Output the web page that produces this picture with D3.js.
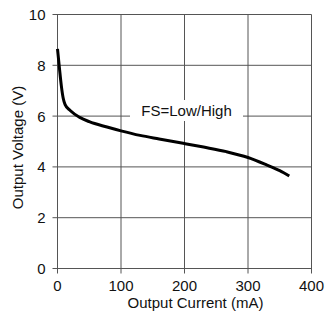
<!DOCTYPE html>
<html><head><meta charset="utf-8">
<script src="https://cdn.jsdelivr.net/npm/d3@7"></script>
<style>body{margin:0;background:#fff}svg{display:block}text{font-family:"Liberation Sans",Arial,sans-serif;fill:#111}</style>
</head><body>
<script>
const current = [0, 3, 6, 9, 12, 20, 35, 50, 78, 100, 130, 160, 200, 230, 266, 300, 330, 350, 365];
const voltage = [8.65, 7.9, 7.2, 6.7, 6.45, 6.22, 5.95, 5.78, 5.57, 5.42, 5.24, 5.1, 4.92, 4.78, 4.6, 4.37, 4.07, 3.85, 3.64];
const xTicks = [0, 100, 200, 300, 400];
const yTicks = [0, 2, 4, 6, 8, 10];
const annotation = "FS=Low/High";
const xTitle = "Output Current (mA)";
const yTitle = "Output Voltage (V)";

const W = 328, H = 311;
const svg = d3.select("body").append("svg").attr("width", W).attr("height", H);
const x = d3.scaleLinear().domain([0, 400]).range([57.5, 311.5]);
const y = d3.scaleLinear().domain([0, 10]).range([268.5, 14.5]);

const grid = svg.append("g").attr("stroke", "#555").attr("stroke-width", 1);
grid.selectAll(".vx").data(xTicks).join("line")
  .attr("x1", d => x(d)).attr("x2", d => x(d)).attr("y1", y(10)).attr("y2", y(0) + 5);
grid.selectAll(".hy").data(yTicks).join("line")
  .attr("y1", d => y(d)).attr("y2", d => y(d)).attr("x1", x(0) - 5).attr("x2", x(400));

// annotation box
const ann = svg.append("g");
ann.append("rect").attr("x", 130).attr("y", 100).attr("width", 113).attr("height", 21).attr("fill", "#fff");
ann.append("text").attr("x", 186.5).attr("y", 115.5).attr("text-anchor", "middle")
  .attr("font-size", 15).text(annotation);

svg.append("path").datum(current.map((c, i) => [c, voltage[i]]))
  .attr("fill", "none").attr("stroke", "#000").attr("stroke-width", 3)
  .attr("stroke-linejoin", "round")
  .attr("d", d3.line().x(d => x(d[0])).y(d => y(d[1])).curve(d3.curveMonotoneX));

svg.selectAll(".xl").data(xTicks).join("text")
  .attr("x", d => x(d)).attr("y", 291).attr("text-anchor", "middle")
  .attr("font-size", 15).text(d => d);
svg.selectAll(".yl").data(yTicks).join("text")
  .attr("x", 45.5).attr("y", d => y(d) + 5.5).attr("text-anchor", "end")
  .attr("font-size", 15).text(d => d);

svg.append("text").attr("x", 195.5).attr("y", 307.5).attr("text-anchor", "middle")
  .attr("font-size", 15).text(xTitle);
svg.append("text").attr("transform", "translate(23,147.5) rotate(-90)")
  .attr("text-anchor", "middle").attr("font-size", 15).text(yTitle);
</script>
</body></html>
